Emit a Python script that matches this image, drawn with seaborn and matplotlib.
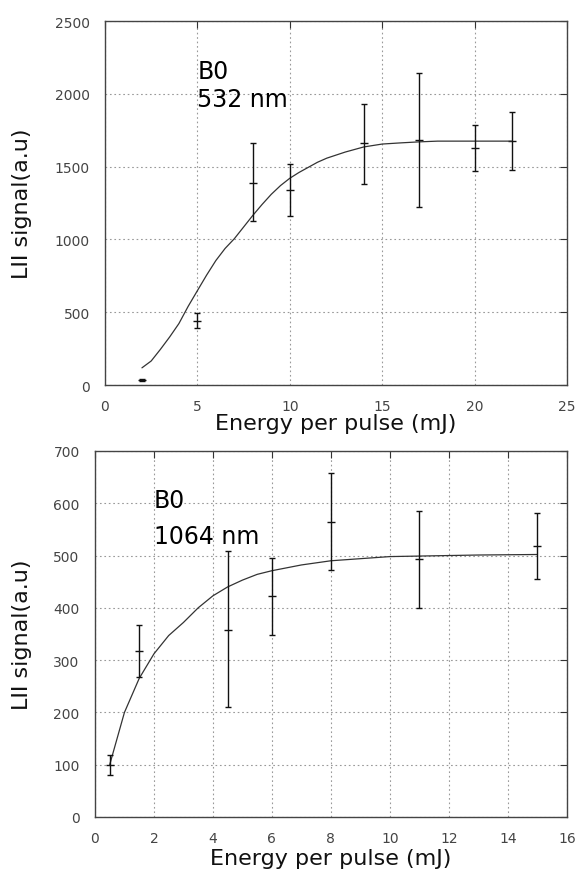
import matplotlib
matplotlib.use("Agg")
import matplotlib.pyplot as plt
import seaborn as sns
import pandas as pd

# ---- Top panel: 532 nm ----
e532 = [2, 5, 8, 10, 14, 17, 20, 22]
s532 = [35, 440, 1390, 1340, 1660, 1680, 1630, 1675]
lo532 = [28, 390, 1125, 1160, 1380, 1225, 1470, 1475]
hi532 = [42, 495, 1665, 1520, 1930, 2140, 1785, 1875]
fit532_x = [2, 2.5, 3, 3.5, 4, 4.5, 5, 5.5, 6, 6.5, 7, 7.5, 8, 8.5, 9, 9.5, 10,
            10.5, 11, 11.5, 12, 13, 14, 15, 16, 17, 18, 20, 22]
fit532_y = [118, 165, 245, 330, 422, 540, 648, 755, 855, 938, 1005, 1085, 1165,
            1240, 1310, 1370, 1420, 1460, 1495, 1530, 1558, 1600, 1635, 1655,
            1663, 1670, 1675, 1675, 1675]

# ---- Bottom panel: 1064 nm ----
e1064 = [0.5, 1.5, 4.5, 6, 8, 11, 15]
s1064 = [100, 318, 358, 422, 565, 493, 518]
lo1064 = [80, 267, 210, 348, 472, 400, 455]
hi1064 = [118, 368, 508, 496, 658, 586, 582]
fit1064_x = [0.5, 1, 1.5, 2, 2.5, 3, 3.5, 4, 4.5, 5, 5.5, 6, 7, 8, 9, 10, 11,
             12, 13, 15]
fit1064_y = [100, 200, 265, 312, 347, 372, 400, 423, 440, 453, 464, 471, 482,
             490, 494, 498, 499, 500, 501, 502]

xlabel = "Energy per pulse (mJ)"
ylabel = "LII signal(a.u)"

sns.set_style("white")
plt.rcParams['font.family'] = ['DejaVu Sans']

fig = plt.figure(figsize=(5.79, 8.70), dpi=100)
ax1 = fig.add_axes([0.1813, 0.5563, 0.798, 0.4184])
ax2 = fig.add_axes([0.164, 0.0598, 0.815, 0.4207])


def draw(ax, ex, s, lo, hi, fx, fy, xlim, ylim, xticks, yticks, ylp, xlp):
    fit = pd.DataFrame({"x": fx, "y": fy})
    sns.lineplot(data=fit, x="x", y="y", ax=ax, color="#333333", lw=0.9,
                 estimator=None, sort=False)
    yerr = [[v - l for v, l in zip(s, lo)], [h - v for v, h in zip(s, hi)]]
    ax.errorbar(ex, s, yerr=yerr, fmt='none', ecolor="#111111", elinewidth=1.0,
                capsize=2.5, capthick=1.0)
    pts = pd.DataFrame({"x": ex, "y": s})
    sns.scatterplot(data=pts, x="x", y="y", ax=ax, marker="_", s=36,
                    color="#111111", linewidth=1.0)
    ax.set_xlim(*xlim)
    ax.set_ylim(*ylim)
    ax.set_xticks(xticks)
    ax.set_yticks(yticks)
    ax.grid(True, linestyle=(0, (1.5, 2.5)), color="#999999", lw=0.8)
    ax.tick_params(direction="in", top=True, right=True, length=5,
                   width=0.8, color="#333333", labelsize=10,
                   labelcolor="#444444")
    ax.tick_params(axis="y", pad=11)
    ax.tick_params(axis="x", pad=10)
    for sp in ax.spines.values():
        sp.set_color("#444444")
        sp.set_linewidth(1.0)
        sp.set_visible(True)
    ax.set_xlabel(xlabel, fontsize=16, color="#111111", labelpad=xlp)
    ax.set_ylabel(ylabel, fontsize=16, color="#111111", labelpad=ylp)


draw(ax1, e532, s532, lo532, hi532, fit532_x, fit532_y, (0, 25), (0, 2500),
     [0, 5, 10, 15, 20, 25], [0, 500, 1000, 1500, 2000, 2500], 16, 0)
draw(ax2, e1064, s1064, lo1064, hi1064, fit1064_x, fit1064_y, (0, 16), (0, 700),
     list(range(0, 17, 2)), list(range(0, 701, 100)), 15, 2)

ax1.text(5.0, 2240, "B0\n532 nm", fontsize=17, ha="left", va="top",
         linespacing=1.2, color="#000000")
ax2.text(2.0, 593, "B0", fontsize=17, ha="left", va="baseline", color="#000000")
ax2.text(2.0, 524, "1064 nm", fontsize=17, ha="left", va="baseline",
         color="#000000")

fig.savefig("out.png", dpi=100)
